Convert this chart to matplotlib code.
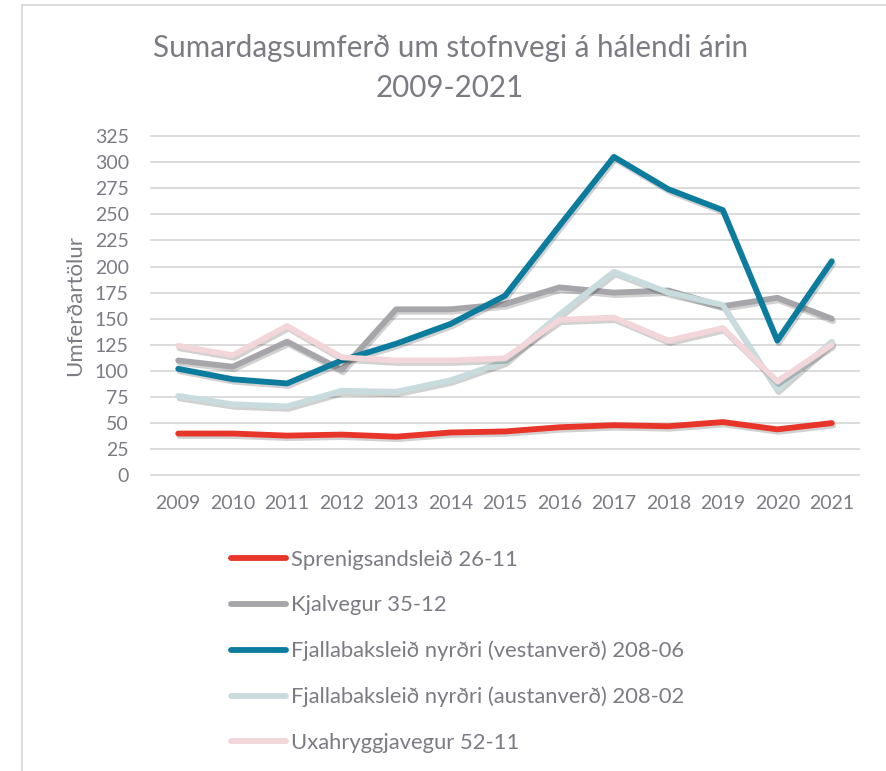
import matplotlib
matplotlib.use("Agg")
import matplotlib.pyplot as plt
import matplotlib.patheffects as pe

plt.rcParams['font.family'] = ['Lato', 'DejaVu Sans']

years = ['2009', '2010', '2011', '2012', '2013', '2014', '2015',
         '2016', '2017', '2018', '2019', '2020', '2021']

sprengisandsleid = [40, 40, 38, 39, 37, 41, 42, 46, 48, 47, 51, 44, 50]
kjalvegur = [110, 104, 128, 101, 159, 159, 164, 180, 175, 177, 162, 170, 150]
fjallabak_vestur = [102, 92, 88, 110, 126, 145, 172, 239, 305, 274, 254, 129, 205]
fjallabak_austur = [76, 68, 66, 81, 80, 91, 109, 154, 195, 175, 163, 82, 128]
uxahryggjavegur = [124, 115, 143, 113, 110, 110, 112, 149, 151, 129, 141, 90, 125]

labels = ['Sprenigsandsleið 26-11', 'Kjalvegur 35-12',
          'Fjallabaksleið nyrðri (vestanverð) 208-06',
          'Fjallabaksleið nyrðri (austanverð) 208-02',
          'Uxahryggjavegur 52-11']
colors = ['#E8352A', '#A6A6AA', '#0C7C9E', '#C8DCDE', '#F2D6D9']
series = [sprengisandsleid, kjalvegur, fjallabak_vestur,
          fjallabak_austur, uxahryggjavegur]

text_color = '#7B7B83'

fig = plt.figure(figsize=(8.86, 7.71), dpi=100)
ax = fig.add_axes([151 / 886, 1 - 475.3 / 771, (859 - 151) / 886, (475.3 - 136) / 771])

x = list(range(len(years)))
shadow = [pe.SimpleLineShadow(offset=(1.0, -1.8), shadow_color='black', alpha=0.18),
          pe.Normal()]
for vals, col, lab in zip(series, colors, labels):
    ax.plot(x, vals, color=col, lw=4.2, label=lab, solid_capstyle='round',
            solid_joinstyle='round', path_effects=shadow, zorder=3)

ax.set_xlim(-0.5, len(years) - 0.5)
ax.set_ylim(0, 325)
ax.set_yticks(range(0, 326, 25))
ax.set_xticks(x)
ax.set_xticklabels(years)
ax.grid(axis='y', color='#D9D9D9', lw=1.3, clip_on=False)
ax.set_axisbelow(True)
for s in ax.spines.values():
    s.set_visible(False)
ax.tick_params(length=0, colors=text_color, labelsize=14)
ax.tick_params(axis='x', pad=14)
ax.tick_params(axis='y', pad=16)
ax.set_ylabel('Umferðartölur', color=text_color, fontsize=16, labelpad=7)

fig.text(0.508, 1 - 48 / 771, 'Sumardagsumferð um stofnvegi á hálendi árin',
         ha='center', va='center', fontsize=21.3, color=text_color)
fig.text(0.508, 1 - 88 / 771, '2009-2021',
         ha='center', va='center', fontsize=21.3, color=text_color)

leg = fig.legend(loc='upper left', bbox_to_anchor=(222 / 886, 1 - 541 / 771),
                 frameon=False, fontsize=15.8, handlelength=2.5, handletextpad=0.23,
                 labelspacing=1.16, borderaxespad=0)
for t in leg.get_texts():
    t.set_color(text_color)
for h in leg.get_lines():
    h.set_path_effects([])
    h.set_linewidth(4.2)

# outer chart border (top and left edges visible)
fig.add_artist(plt.Line2D([22 / 886, 22 / 886], [0, 1 - 5 / 771], color='#D9D9D9', lw=1.3))
fig.add_artist(plt.Line2D([22 / 886, 1], [1 - 5 / 771, 1 - 5 / 771], color='#D9D9D9', lw=1.3))

fig.savefig('out.png', dpi=100)
